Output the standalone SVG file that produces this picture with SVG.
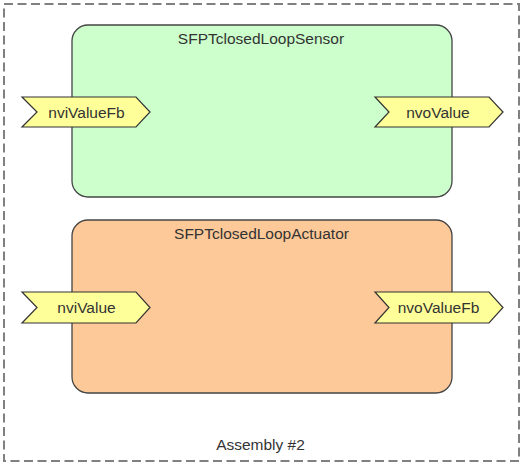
<svg xmlns="http://www.w3.org/2000/svg" width="523" height="465" viewBox="0 0 523 465">
<style>
text{font-family:"Liberation Sans",Arial,sans-serif;font-size:15.5px;fill:#333;text-anchor:middle}
.box{stroke:#444;stroke-width:1.3}
.port{fill:#ffff99;stroke:#333;stroke-width:1.2}
.frame{fill:#fff;stroke:#808080;stroke-width:2;stroke-dasharray:9 4.5}
</style>
<g id="assembly">
<rect class="frame" x="4" y="4" width="515" height="457"/>
<text x="260.5" y="450">Assembly #2</text>
</g>
<g id="sensor">
<rect class="box" x="72" y="25" width="380" height="172" rx="16" fill="#ccffcc"/>
<text x="261" y="44">SFPTclosedLoopSensor</text>
</g>
<g id="sensor-nviValueFb">
<path class="port" d="M22,97 L136,97 L150,112 L136,127 L22,127 L37,112 Z"/>
<text x="86.5" y="117.5">nviValueFb</text>
</g>
<g id="sensor-nvoValue">
<path class="port" d="M375,97 L489,97 L503,112 L489,127 L375,127 L389,112 Z"/>
<text x="438" y="117.5">nvoValue</text>
</g>
<g id="actuator">
<rect class="box" x="72" y="220" width="380" height="173" rx="16" fill="#fdc998"/>
<text x="261.5" y="239">SFPTclosedLoopActuator</text>
</g>
<g id="actuator-nviValue">
<path class="port" d="M22,292 L136,292 L150,307.5 L136,323 L22,323 L37,307.5 Z"/>
<text x="86.5" y="312.5">nviValue</text>
</g>
<g id="actuator-nvoValueFb">
<path class="port" d="M375,292 L489,292 L503,307.5 L489,323 L375,323 L389,307.5 Z"/>
<text x="438.5" y="312.5">nvoValueFb</text>
</g>
<g id="connectors"/>
</svg>
